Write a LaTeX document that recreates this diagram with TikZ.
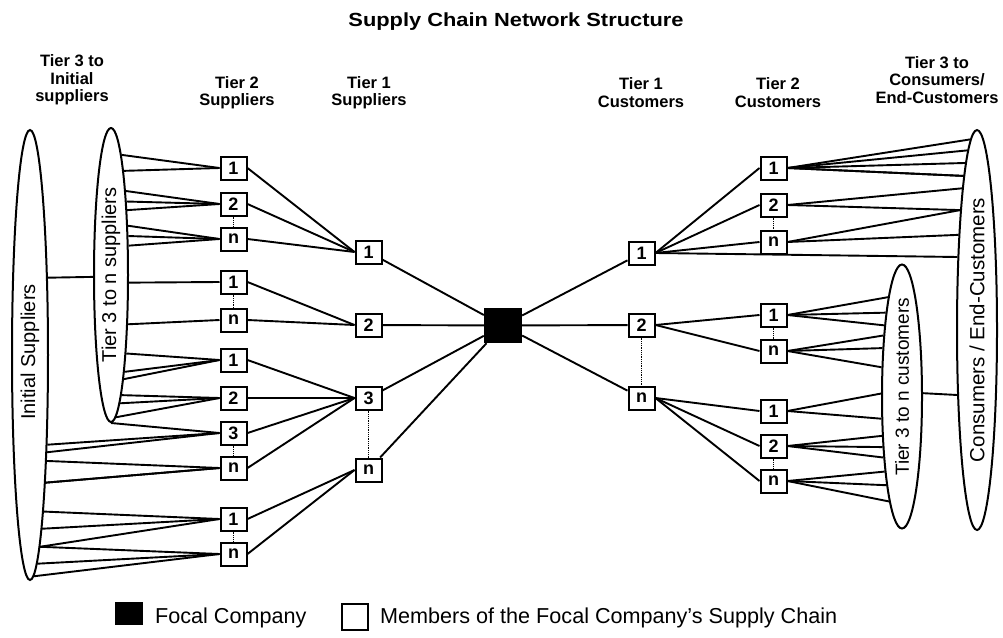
\documentclass[tikz,border=0pt]{standalone}
\usepackage{graphicx}
\usepackage{fontspec}
\setmainfont{Liberation Sans}
\usetikzlibrary{shapes.geometric}
% angle of the border point of a tall ellipse at height ty
% #1 half-width, #2 half-height, #3 centre y, #4 target y, #5 +1 east side / -1 west side
\newcommand\ellang[5]{%
  \pgfmathsetmacro\fdy{#3-#4}%
  \pgfmathsetmacro\fdx{#5*#1*sqrt(max(0,1-(\fdy/#2)^2))}%
  \pgfmathsetmacro\fang{mod(atan2(\fdy,\fdx)+360,360)}%
}
% #1 start point, #2 ellipse node, #3..#7 as \ellang
\newcommand\fanline[7]{%
  \ellang{#3}{#4}{#5}{#6}{#7}%
  \draw[conn] (#1) -- (#2.\fang);%
}
\begin{document}
\begin{tikzpicture}[x=1pt,y=-1pt,
  conn/.style={line width=1.9pt},
  dotc/.style={line width=0.8pt, densely dotted},
  mbox/.style={draw, line width=2pt, fill=white, minimum width=26pt, minimum height=23pt, inner sep=0pt, font=\bfseries\fontsize{18}{18}\selectfont},
  focalbox/.style={fill=black, minimum width=38pt, minimum height=35pt, inner sep=0pt},
  tierell/.style={draw, ellipse, line width=2pt, inner sep=0pt},
  hdr/.style={align=center, font=\bfseries\fontsize{16.5}{17.5}\selectfont},
  elltext/.style={rotate=90, inner sep=0pt},
  legtext/.style={anchor=base west, inner sep=0pt, font=\fontsize{21.6}{22}\selectfont},
]
\useasboundingbox (0,0) rectangle (1003,637);

% title and column headers
\node[font=\bfseries\fontsize{19}{22}\selectfont] (title) at (516,22) {\scalebox{1.15}[1]{Supply Chain Network Structure}};
\node[hdr] (h1) at (72,80) {Tier 3 to\\Initial\\suppliers};
\node[hdr] (h2) at (237,92.5) {Tier 2\\Suppliers};
\node[hdr] (h3) at (369,92.5) {Tier 1\\Suppliers};
\node[hdr] (h4) at (641,92.5) {Tier 1\\Customers};
\node[hdr] (h5) at (778,92.5) {Tier 2\\Customers};
\node[hdr] (h6) at (937,80) {Tier 3 to\\Consumers/\\End-Customers};

% ellipses
\node[tierell, minimum width=36pt, minimum height=450pt] (IS) at (30,355) {};
\node[tierell, minimum width=34pt, minimum height=294pt] (T3S) at (111,275) {};
\node[tierell, minimum width=40pt, minimum height=264pt] (T3C) at (902,396.5) {};
\node[tierell, minimum width=40pt, minimum height=400pt] (CE) at (977,330) {};
\node[elltext, font=\fontsize{20}{20}\selectfont] (ISt) at (30,352) {Initial Suppliers};
\node[elltext, font=\fontsize{20}{20}\selectfont] (T3St) at (111,275) {Tier 3 to n suppliers};
\node[elltext, font=\fontsize{19}{19}\selectfont] (T3Ct) at (902,387) {Tier 3 to n customers};
\node[elltext, font=\fontsize{20.5}{20.5}\selectfont] (CEt) at (977,330) {Consumers / End-Customers};

% tier 2 suppliers
\foreach \n/\y/\t in {s2a/168/1, s2b/204/2, s2c/239/n, s2d/282/1, s2e/320/n, s2f/360/1, s2g/398/2, s2h/433/3, s2i/468/n, s2j/519/1, s2k/554/n}
  \node[mbox] (\n) at (233.5,\y) {\t};
% tier 1 suppliers
\foreach \n/\y/\t in {t1a/252/1, t1b/325/2, t1c/398/3, t1d/470/n}
  \node[mbox] (\n) at (368.5,\y) {\t};
% focal company
\node[focalbox] (focal) at (503,325.5) {};
% tier 1 customers
\foreach \n/\y/\t in {c1a/253/1, c1b/325/2, c1c/398/n}
  \node[mbox] (\n) at (641.5,\y) {\t};
% tier 2 customers
\foreach \n/\y/\t in {c2a/168/1, c2b/205/2, c2c/242/n, c2d/315/1, c2e/351/n, c2f/411/1, c2g/446/2, c2h/481/n}
  \node[mbox] (\n) at (773.5,\y) {\t};

% supplier fans into the ellipses
\foreach \b/\ty in {s2a/153, s2a/171, s2b/190, s2b/204, s2b/212, s2c/227, s2c/237, s2c/247, s2d/282, s2e/320, s2f/348, s2f/362, s2f/372, s2g/387, s2g/398, s2g/410}
  {\fanline{\b.west}{T3S}{17}{147}{275}{\ty}{1}}
\foreach \b/\ty in {s2h/436, s2h/445, s2i/456, s2i/467, s2i/477, s2j/504, s2j/518, s2j/528, s2k/541, s2k/558, s2k/568}
  {\fanline{\b.west}{IS}{18}{225}{355}{\ty}{1}}
\draw[conn] (s2h.west) -- (T3S.south);
\ellang{18}{225}{355}{277}{1}\let\angA\fang
\ellang{17}{147}{275}{277}{-1}\let\angB\fang
\draw[conn] (IS.\angA) -- (T3S.\angB);

% customer fans into the ellipses
\foreach \b/\ty in {c2a/149, c2a/160, c2a/169, c2a/180, c2a/191, c2b/202, c2b/215, c2c/223, c2c/243, c1a/263}
  {\fanline{\b.east}{CE}{20}{200}{330}{\ty}{-1}}
\foreach \b/\ty in {c2d/302, c2d/317, c2d/330, c2e/339, c2e/352, c2e/369, c2f/394, c2f/418, c2g/435, c2g/447, c2g/458, c2h/472, c2h/483, c2h/500}
  {\fanline{\b.east}{T3C}{20}{132}{396.5}{\ty}{-1}}
\ellang{20}{132}{396.5}{393}{1}\let\angA\fang
\ellang{20}{200}{330}{393}{-1}\let\angB\fang
\draw[conn] (T3C.\angA) -- (CE.\angB);

% supplier tree
\foreach \a/\b in {s2a/t1a, s2b/t1a, s2c/t1a, s2d/t1b, s2e/t1b, s2f/t1c, s2g/t1c, s2h/t1c, s2i/t1c, s2j/t1d, s2k/t1d}
  \draw[conn] (\a.east) -- (\b.west);
\foreach \a in {t1a, t1b, t1c, t1d}
  \draw[conn] (\a) -- (focal);
% customer tree
\foreach \a in {c1a, c1b, c1c}
  \draw[conn] (focal) -- (\a);
\foreach \a/\b in {c1a/c2a, c1a/c2b, c1a/c2c, c1b/c2d, c1b/c2e, c1c/c2f, c1c/c2g, c1c/c2h}
  \draw[conn] (\a.east) -- (\b.west);

% dotted "more members" links
\foreach \a/\b in {s2b/s2c, s2d/s2e, s2h/s2i, s2j/s2k, t1c/t1d, c1b/c1c, c2b/c2c, c2d/c2e, c2g/c2h}
  \draw[dotc] (\a.south) -- (\b.north);

% legend
\node[fill=black, minimum width=28pt, minimum height=23pt, inner sep=0pt] (lgf) at (129,613.5) {};
\node[legtext] (lgft) at (155,623) {Focal Company};
\node[draw, line width=1.4pt, minimum width=26pt, minimum height=26pt, inner sep=0pt] (lgm) at (355,617) {};
\node[legtext] (lgmt) at (380,623) {Members of the Focal Company's Supply Chain};
\end{tikzpicture}
\end{document}
